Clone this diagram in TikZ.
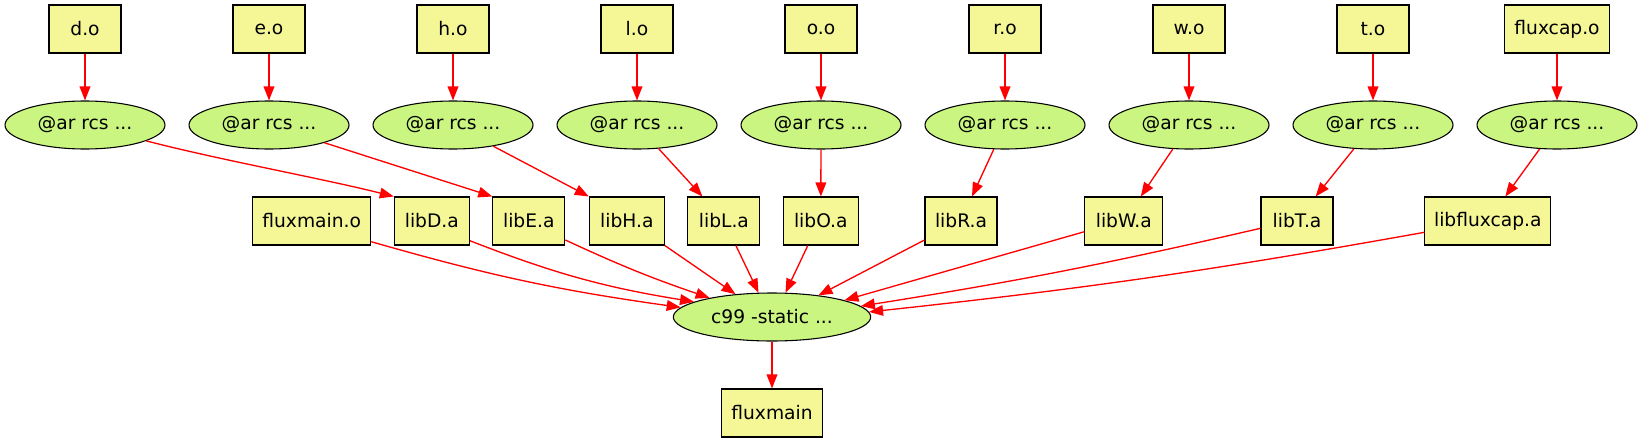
\documentclass[tikz,border=0pt]{standalone}
\usepackage{fontspec}
\setmainfont{DejaVu Sans}
\usetikzlibrary{shapes.geometric,arrows.meta,calc}
\definecolor{boxfill}{RGB}{245,246,150}
\definecolor{ellfill}{RGB}{201,245,128}
\begin{document}
\begin{tikzpicture}[x=0.75pt,y=-0.75pt,
  objbox/.style={draw=black, line width=0.8pt, fill=boxfill, rectangle,
    minimum height=36pt, minimum width=54pt, inner xsep=2pt,
    font=\fontsize{14}{16}\selectfont},
  cmd/.style={draw=black, line width=0.8pt, fill=ellfill, ellipse,
    minimum height=36pt, minimum width=120pt, inner sep=0pt,
    font=\fontsize{14}{16}\selectfont},
  edge/.style={draw=red, line width=1pt, -{Triangle[length=10.5pt,width=8pt]}}]
\useasboundingbox (0,0) rectangle (1643,443);
% top row
\node[objbox] (do) at (85,29) {d.o};
\node[objbox] (eo) at (269,29) {e.o};
\node[objbox] (ho) at (453,29) {h.o};
\node[objbox] (lo) at (637,29) {l.o};
\node[objbox] (oo) at (821,29) {o.o};
\node[objbox] (ro) at (1005,29) {r.o};
\node[objbox] (wo) at (1189,29) {w.o};
\node[objbox] (to) at (1373,29) {t.o};
\node[objbox, minimum width=78.3pt] (fco) at (1557,29) {fluxcap.o};
% ar rows
\node[cmd] (ad) at (85,125) {@ar rcs ...};
\node[cmd] (ae) at (269,125) {@ar rcs ...};
\node[cmd] (ah) at (453,125) {@ar rcs ...};
\node[cmd] (al) at (637,125) {@ar rcs ...};
\node[cmd] (ao) at (821,125) {@ar rcs ...};
\node[cmd] (ar) at (1005,125) {@ar rcs ...};
\node[cmd] (aw) at (1189,125) {@ar rcs ...};
\node[cmd] (at) at (1373,125) {@ar rcs ...};
\node[cmd] (af) at (1557,125) {@ar rcs ...};
% lib row
\node[objbox, minimum width=88.5pt] (fmo) at (311.7,221) {fluxmain.o};
\node[objbox, minimum width=56.25pt] (libD) at (431.8,221) {libD.a};
\node[objbox] (libE) at (528.8,221) {libE.a};
\node[objbox, minimum width=56.25pt] (libH) at (626.8,221) {libH.a};
\node[objbox] (libL) at (723.9,221) {libL.a};
\node[objbox, minimum width=56.25pt] (libO) at (820.8,221) {libO.a};
\node[objbox] (libR) at (961,221) {libR.a};
\node[objbox, minimum width=58.3pt] (libW) at (1123.8,221) {libW.a};
\node[objbox] (libT) at (1297,221) {libT.a};
\node[objbox, minimum width=94.3pt] (libfc) at (1487.8,221) {libfluxcap.a};
% link
\node[cmd, minimum width=148pt] (c99) at (772,317) {c99 -static ...};
\node[objbox, minimum width=76.3pt] (fm) at (772,413) {fluxmain};
% edges top -> ar
\draw[edge] (do) -- (ad);
\draw[edge] (eo) -- (ae);
\draw[edge] (ho) -- (ah);
\draw[edge] (lo) -- (al);
\draw[edge] (oo) -- (ao);
\draw[edge] (ro) -- (ar);
\draw[edge] (wo) -- (aw);
\draw[edge] (to) -- (at);
\draw[edge] (fco) -- (af);
% ar -> lib
\draw[edge] (ad) .. controls (220,160) and (320,178) .. (libD.north west);
\draw[edge] (ae) -- (libE.north west);
\draw[edge] (ah) -- (libH.north west);
\draw[edge] (al) -- ($(libL.north west)+(15,0)$);
\draw[edge] (ao) -- (libO);
\draw[edge] (ar) -- ($(libR.north)+(11,0)$);
\draw[edge] (aw) -- ($(libW.north)+(17,0)$);
\draw[edge] (at) -- ($(libT.north)+(18.7,0)$);
\draw[edge] (af) -- ($(libfc.north)+(17.5,0)$);
% lib -> c99
\draw[edge] ($(fmo.east)+(0,20.7)$) to[bend right=4] (c99.174);
\draw[edge] ($(libD.east)+(0,19.7)$) to[bend right=6] (c99.169);
\draw[edge] ($(libE.east)+(0,19)$) to[bend right=3] (c99.163);
\draw[edge] (libH.south east) -- (c99.148);
\draw[edge] ($(libL.south)+(12,0)$) -- (c99.119);
\draw[edge] ($(libO.south)+(-13,0)$) -- (c99.61);
\draw[edge] ($(libR.west)+(0,19)$) -- (c99.25);
\draw[edge] ($(libW.west)+(0,10.7)$) -- (c99.13);
\draw[edge] ($(libT.west)+(0,7.3)$) to[bend left=2] (c99.7);
\draw[edge] ($(libfc.west)+(0,11.3)$) to[bend left=2] (c99.3);
% c99 -> fluxmain
\draw[edge] (c99) -- (fm);
\end{tikzpicture}
\end{document}
